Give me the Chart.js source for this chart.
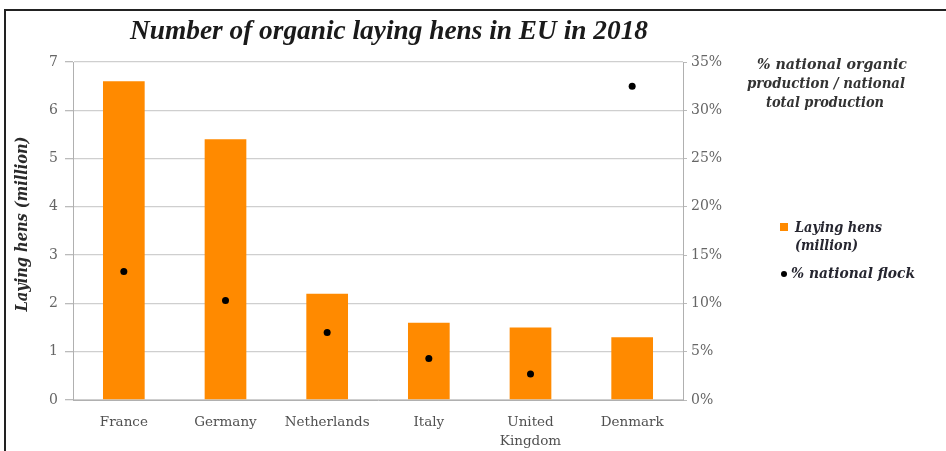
<!DOCTYPE html>
<html>
<head>
<meta charset="utf-8">
<script src="https://cdn.jsdelivr.net/npm/chart.js@4/dist/chart.umd.min.js"></script>
<style>
  html, body { margin: 0; padding: 0; background: #fff; }
  #wrap { position: relative; width: 946px; height: 451px; }
  canvas { display: block; }
</style>
</head>
<body>
<div id="wrap"><canvas id="c" width="946" height="451"></canvas></div>
<script>
// Organic laying hens per country (million) and share of the national flock (%)
const countries = ['France', 'Germany', 'Netherlands', 'Italy', ['United', 'Kingdom'], 'Denmark'];
const layingHens = [6.6, 5.4, 2.2, 1.6, 1.5, 1.3];
const nationalFlockPct = [13.3, 10.3, 7.0, 4.3, 2.7, 32.5];

const titleText = 'Number of organic laying hens in EU in 2018';
const leftAxisTitle = 'Laying hens (million)';
const rightAxisTitle = ['% national organic', 'production / national', 'total production'];
const legendBar = ['Laying hens', '(million)'];
const legendDot = '% national flock';

const ORANGE = '#ff8a00';
const SERIF = '"Liberation Serif", "DejaVu Serif", serif';
const DSERIF = '"DejaVu Serif", "Liberation Serif", serif';

// Fixed plot box
const PLOT = { left: 73, right: 683, top: 62, bottom: 400 };

// draw text squeezed/stretched horizontally to a given width
function fitText(ctx, text, x, y, width, font) {
  ctx.font = font;
  const w = ctx.measureText(text).width;
  ctx.save();
  ctx.translate(x, y);
  ctx.scale(width / w, 1);
  ctx.fillText(text, 0, 0);
  ctx.restore();
}

const decorations = {
  id: 'decorations',
  afterDraw(chart) {
    const ctx = chart.ctx;
    ctx.save();

    // frame lines
    ctx.strokeStyle = '#222';
    ctx.lineWidth = 2;
    ctx.beginPath();
    ctx.moveTo(5, 451);
    ctx.lineTo(5, 10);
    ctx.lineTo(946, 10);
    ctx.stroke();

    // main title
    ctx.fillStyle = '#1a1a1a';
    ctx.textAlign = 'center';
    ctx.textBaseline = 'middle';
    fitText(ctx, titleText, 389, 32, 518, `italic bold 27px ${SERIF}`);

    // left axis title
    ctx.save();
    ctx.translate(23, 224);
    ctx.rotate(-Math.PI / 2);
    ctx.fillStyle = '#2a2a2a';
    fitText(ctx, leftAxisTitle, 0, 0, 175, `italic bold 16px ${DSERIF}`);
    ctx.restore();

    // right axis title
    ctx.fillStyle = '#333';
    const rw = [150, 158, 118];
    const rx = [832, 826, 825];
    rightAxisTitle.forEach((line, i) =>
      fitText(ctx, line, rx[i], 65 + i * 19, rw[i], `italic bold 14px ${DSERIF}`));

    // legend
    const bar = chart.data.datasets[0];
    const dot = chart.data.datasets[1];
    ctx.textAlign = 'left';
    ctx.fillStyle = bar.backgroundColor;
    ctx.fillRect(780, 223, 8, 8);
    ctx.fillStyle = '#262630';
    fitText(ctx, legendBar[0], 795, 228, 87, `italic bold 14px ${DSERIF}`);
    fitText(ctx, legendBar[1], 795, 246, 63, `italic bold 14px ${DSERIF}`);
    ctx.fillStyle = dot.pointBackgroundColor;
    ctx.beginPath();
    ctx.arc(784, 274, 3, 0, Math.PI * 2);
    ctx.fill();
    ctx.fillStyle = '#262630';
    fitText(ctx, legendDot, 791, 274, 124, `italic bold 14px ${DSERIF}`);

    ctx.restore();
  }
};

new Chart(document.getElementById('c'), {
  data: {
    labels: countries,
    datasets: [
      {
        type: 'bar',
        label: 'Laying hens (million)',
        data: layingHens,
        backgroundColor: ORANGE,
        yAxisID: 'y',
        categoryPercentage: 1,
        barPercentage: 0.41,
        order: 2
      },
      {
        type: 'line',
        label: '% national flock',
        data: nationalFlockPct,
        yAxisID: 'y1',
        showLine: false,
        pointRadius: 3.5,
        pointBackgroundColor: '#000',
        pointBorderColor: '#000',
        pointBorderWidth: 0,
        order: 1
      }
    ]
  },
  options: {
    responsive: false,
    animation: false,
    devicePixelRatio: 1,
    layout: { padding: { left: 0, right: 0, top: PLOT.top, bottom: 0 } },
    plugins: {
      legend: { display: false },
      title: { display: false },
      tooltip: { enabled: false }
    },
    scales: {
      x: {
        grid: { display: false, drawTicks: false },
        border: { color: '#b0b0b0', width: 1 },
        ticks: {
          color: '#505050',
          font: { family: DSERIF, size: 13.5, lineHeight: 1.4 },
          padding: 13,
          maxRotation: 0,
          autoSkip: false
        },
        afterFit(scale) { scale.height = 451 - PLOT.bottom; }
      },
      y: {
        position: 'left',
        min: 0,
        max: 7,
        ticks: {
          stepSize: 1,
          color: '#666',
          font: { family: DSERIF, size: 14 },
          padding: 7
        },
        grid: { color: '#cfcfcf', lineWidth: 1.3, tickLength: 8, tickColor: '#bbb' },
        border: { color: '#b0b0b0', width: 1 },
        afterFit(scale) { scale.width = PLOT.left; }
      },
      y1: {
        position: 'right',
        min: 0,
        max: 35,
        ticks: {
          stepSize: 5,
          color: '#666',
          font: { family: DSERIF, size: 14 },
          padding: 4,
          callback: v => v + '%'
        },
        grid: { drawOnChartArea: false, tickLength: 4, tickColor: '#bbb' },
        border: { color: '#b0b0b0', width: 1 },
        afterFit(scale) { scale.width = 946 - PLOT.right; }
      }
    }
  },
  plugins: [decorations]
});
</script>
</body>
</html>
